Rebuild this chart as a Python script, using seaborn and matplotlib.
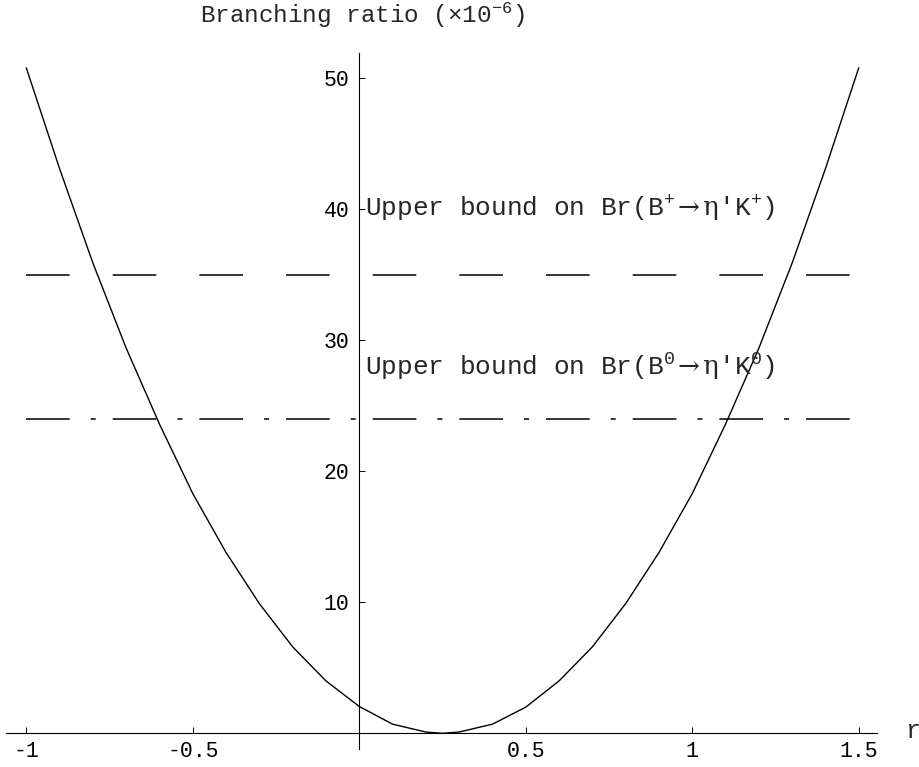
import numpy as np
import matplotlib
matplotlib.use("Agg")
import matplotlib.pyplot as plt
import seaborn as sns

# valores (r, Br x 10^-6)
r_vals = [-1.0, -0.9, -0.8, -0.7, -0.6, -0.5, -0.4, -0.3, -0.2, -0.1, 0.0,
          0.1, 0.2, 0.25, 0.3, 0.4, 0.5, 0.6, 0.7, 0.8, 0.9, 1.0, 1.1, 1.2,
          1.3, 1.4, 1.5]
br_vals = [50.8, 43.1, 35.9, 29.4, 23.6, 18.3, 13.8, 9.9, 6.6, 4.0, 2.05,
           0.7, 0.1, 0.0, 0.1, 0.7, 2.0, 4.0, 6.6, 9.9, 13.8, 18.3, 23.6, 29.4,
           35.9, 43.1, 50.8]

# limites superiores e o intervalo em r onde sao desenhados
bound_plus = 35.0
bound_zero = 24.0
bound_r = [-1.0, 1.5]

x_ticks = [-1, -0.5, 0.5, 1, 1.5]
x_tick_labels = ["-1", "-0.5", "0.5", "1", "1.5"]
y_ticks = [10, 20, 30, 40, 50]
y_tick_labels = ["10", "20", "30", "40", "50"]

label_plus = r"Upper bound on Br(B$^{+}$$\mathsf{\rightarrow\eta}$'K$^{+}$)"
label_zero = r"Upper bound on Br(B$^{0}$$\mathsf{\rightarrow\eta}$'K$^{0}$)"
title = r"Branching ratio ($\times$10$^{-6}$)"

sns.set_theme(style="white")
mono = "Liberation Mono"
plt.rcParams["font.family"] = [mono, "DejaVu Sans"]
plt.rcParams["mathtext.fontset"] = "custom"
plt.rcParams["mathtext.rm"] = mono
plt.rcParams["mathtext.it"] = mono
plt.rcParams["mathtext.bf"] = mono
plt.rcParams["mathtext.sf"] = "DejaVu Serif"
plt.rcParams["lines.scale_dashes"] = False

fig = plt.figure(figsize=(9.2, 7.67), dpi=100)
ax = fig.add_axes([0, 0, 1, 1])
ax.set_facecolor("white")
ax.set_xlim(-1.079, 1.684)
ax.set_ylim(-2.57, 55.98)

# curva principal
sns.lineplot(x=r_vals, y=br_vals, ax=ax, color="black", linewidth=1.0, sort=False)

# linhas tracejadas dos limites
ax.plot(bound_r, [bound_plus, bound_plus], color="black", linewidth=1.1,
        dashes=(31.4, 31.0), dash_capstyle="butt")
ax.plot(bound_r, [bound_zero, bound_zero], color="black", linewidth=1.1,
        dashes=(31.5, 15.1, 3.6, 12.2), dash_capstyle="butt")

ax.text(0.017, 39.45, label_plus, fontsize=18.8, ha="left", va="baseline")
ax.text(0.017, 27.35, label_zero, fontsize=18.8, ha="left", va="baseline")
ax.text(0.01, 54.2, title, fontsize=17.5, ha="center", va="baseline")
ax.text(1.639, -0.36, "r", fontsize=18, ha="left", va="baseline")

# eixos estilo Mathematica cruzando na origem
for s in ["top", "right"]:
    ax.spines[s].set_visible(False)
ax.spines["left"].set_position(("data", 0))
ax.spines["bottom"].set_position(("data", 0))
ax.spines["left"].set_bounds(-1.2, 51.9)
ax.spines["bottom"].set_bounds(-1.061, 1.556)
for s in ["left", "bottom"]:
    ax.spines[s].set_color("black")
    ax.spines[s].set_linewidth(0.8)

ax.set_xticks(x_ticks)
ax.set_xticklabels(x_tick_labels)
ax.set_yticks(y_ticks)
ax.set_yticklabels(y_tick_labels)
minor_x = [round(v, 1) for v in np.arange(-1.0, 1.51, 0.1)]
minor_x = [v for v in minor_x if v not in x_ticks and v != 0]
ax.set_xticks(minor_x, minor=True)
minor_y = [v for v in range(2, 52, 2) if v not in y_ticks]
ax.set_yticks(minor_y, minor=True)

ax.tick_params(which="both", direction="in", color="black", width=0.7,
               labelsize=15.5, labelcolor="black")
ax.tick_params(which="major", length=4.5)
ax.tick_params(which="minor", length=2.6)
ax.tick_params(axis="x", which="major", pad=5.5)
ax.tick_params(axis="y", which="major", pad=7)
ax.tick_params(axis="both", bottom=True, left=True)
ax.grid(False)

fig.savefig("out.png", dpi=100)
